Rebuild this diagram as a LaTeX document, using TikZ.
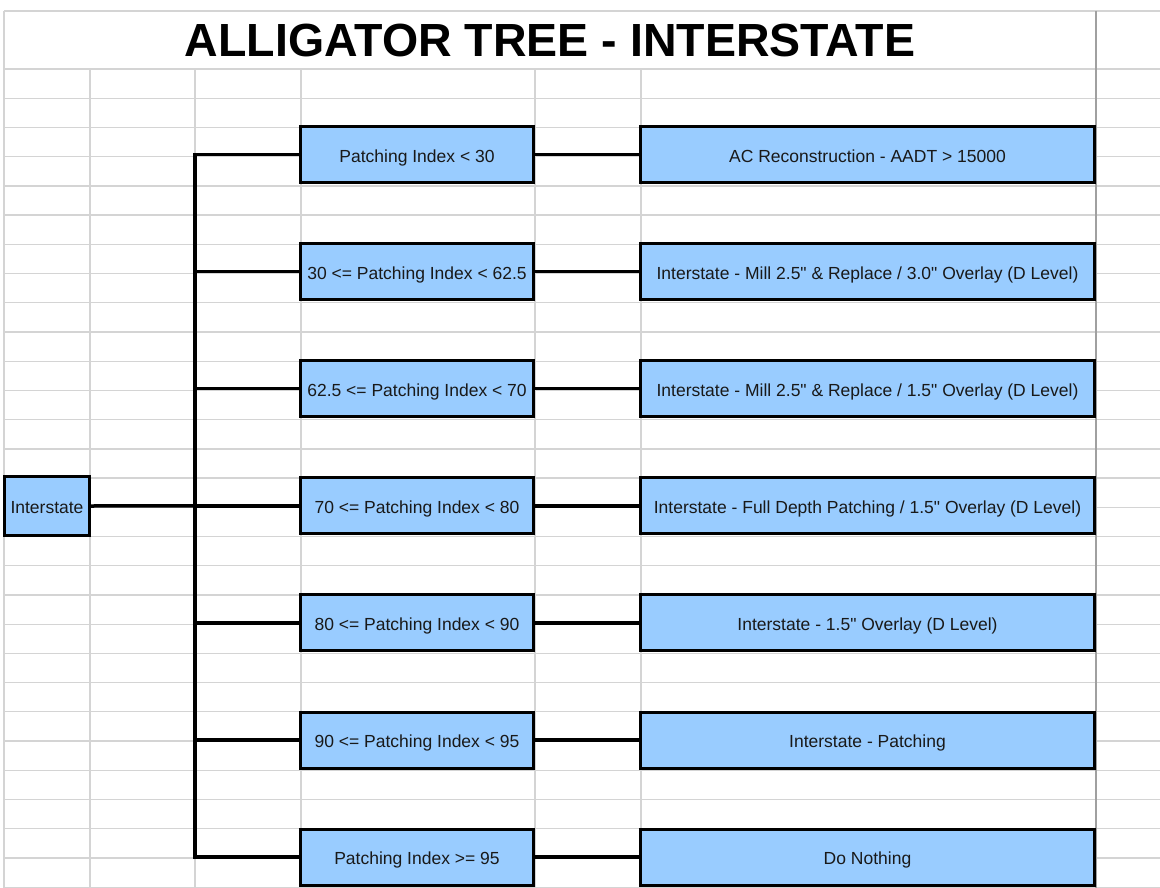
\documentclass[tikz,border=0pt]{standalone}
\usepackage{fontspec}
\setmainfont{Liberation Sans}[Ligatures=TeXOff]
\definecolor{cellblue}{HTML}{99CCFF}
\definecolor{gridgray}{HTML}{D4D4D4}
\definecolor{edgegray}{HTML}{A0A0A0}
\tikzset{
  gridline/.style={gridgray, line width=1.3pt},
  cellbox/.style={draw=black, fill=cellblue, line width=3pt, inner sep=0pt,
    text=black!90, font=\fontsize{17.5}{21}\selectfont,
    text height=15.5pt, text depth=0pt},
  testbox/.style={cellbox, minimum width=233pt, minimum height=56pt},
  actbox/.style={cellbox, minimum width=454pt, minimum height=56pt},
  conn/.style={line width=3.5pt, line join=miter},
}
\begin{document}
\begin{tikzpicture}[x=1pt, y=-1pt]
\useasboundingbox (0,0) rectangle (1160,888);

% sheet grid
\def\rowh{29.22}
\draw[gridline] (4,11) -- (1160,11);
\foreach \k in {0,...,28}
  \draw[gridline] (4,69+\k*\rowh) -- (1160,69+\k*\rowh);
\foreach \x in {90,195,301,535,641}
  \draw[gridline] (\x,69) -- (\x,888);
\draw[gridline] (4,11) -- (4,888);
\draw[edgegray, line width=2.5pt] (1096,11) -- (1096,888);

% title
\node[font=\fontsize{46.5}{55}\selectfont\bfseries] (title) at (550,40)
  {ALLIGATOR TREE - INTERSTATE};

% root
\node[cellbox, minimum width=85pt, minimum height=59pt] (ints) at (47,506) {Interstate};

% patching index tests
\node[testbox] (p1) at (417,154.5) {Patching Index < 30};
\node[testbox] (p2) at (417,271.6) {30 <= Patching Index < 62.5};
\node[testbox] (p3) at (417,388.7) {62.5 <= Patching Index < 70};
\node[testbox] (p4) at (417,505.8) {70 <= Patching Index < 80};
\node[testbox] (p5) at (417,622.9) {80 <= Patching Index < 90};
\node[testbox] (p6) at (417,740.0) {90 <= Patching Index < 95};
\node[testbox] (p7) at (417,857.1) {Patching Index >= 95};

% treatments
\node[actbox] (t1) at (867.5,154.5) {AC Reconstruction - AADT > 15000};
\node[actbox] (t2) at (867.5,271.6) {Interstate - Mill 2.5" \& Replace / 3.0" Overlay (D Level)};
\node[actbox] (t3) at (867.5,388.7) {Interstate - Mill 2.5" \& Replace / 1.5" Overlay (D Level)};
\node[actbox] (t4) at (867.5,505.8) {Interstate - Full Depth Patching / 1.5" Overlay (D Level)};
\node[actbox] (t5) at (867.5,622.9) {Interstate - 1.5" Overlay (D Level)};
\node[actbox] (t6) at (867.5,740.0) {Interstate - Patching};
\node[actbox] (t7) at (867.5,857.1) {Do Nothing};

% connectors
\coordinate (trunk) at (195,506);
\draw[conn] (p1.west) -| (p7.west -| trunk) -- (p7.west);
\foreach \i in {2,...,6}
  \draw[conn] (p\i.west) -- (p\i.west -| trunk);
\draw[conn] (ints.east) -- (p4.west);
\foreach \i in {1,...,7}
  \draw[conn] (p\i.east) -- (t\i.west);
\end{tikzpicture}
\end{document}
